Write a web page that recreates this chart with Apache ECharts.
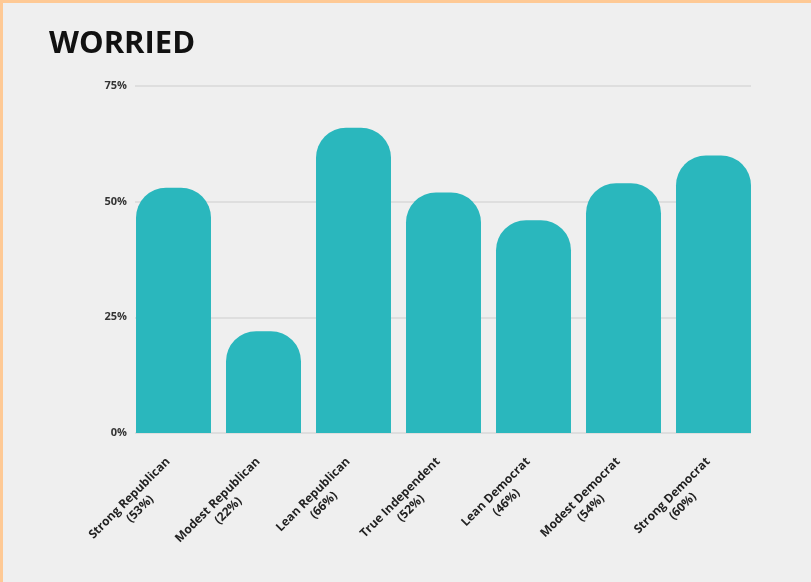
<!DOCTYPE html>
<html>
<head>
<meta charset="utf-8">
<script src="https://cdn.jsdelivr.net/npm/echarts@6/dist/echarts.min.js"></script>
<style>
  html, body { margin: 0; padding: 0; background: #efefef; }
  #chart {
    width: 811px; height: 582px; box-sizing: border-box;
    border-top: 3px solid #fec995; border-left: 3px solid #fec995;
  }
</style>
</head>
<body>
<div id="chart"></div>
<script>
var categories = ['Strong Republican', 'Modest Republican', 'Lean Republican', 'True Independent',
                  'Lean Democrat', 'Modest Democrat', 'Strong Democrat'];
var worried = [53, 22, 66, 52, 46, 54, 60];
var yTicks = [0, 25, 50, 75];

var myChart = echarts.init(document.getElementById('chart'));
myChart.setOption({
    backgroundColor: '#efefef',
    title: {
        text: 'WORRIED',
        left: 41,
        top: 21,
        textStyle: { fontFamily: 'Open Sans', fontWeight: 'bold', fontSize: 31, color: '#111' }
    },
    // grid 0: gridlines and y labels, grid 1: the bars (no outer padding)
    grid: [
        { left: 132, right: 60, top: 83, bottom: 149 },
        { left: 125.5, right: 52.5, top: 83, bottom: 149 }
    ],
    xAxis: [{
        gridIndex: 0,
        type: 'value',
        show: false
    }, {
        gridIndex: 1,
        type: 'category',
        data: categories,
        axisTick: { show: false },
        axisLine: { show: false },
        axisLabel: {
            interval: 0,
            rotate: 45,
            margin: 32,
            formatter: function (name, i) {
                return '{a|' + name + '}\n{a|(' + worried[i] + '%)}';
            },
            rich: {
                a: { align: 'center', fontFamily: 'Open Sans', fontWeight: 'bold',
                     fontSize: 12, color: '#222', lineHeight: 15 }
            }
        }
    }],
    yAxis: [{
        gridIndex: 0,
        type: 'value',
        min: yTicks[0],
        max: yTicks[yTicks.length - 1],
        interval: 25,
        axisLine: { show: false },
        axisTick: { show: false },
        axisLabel: {
            formatter: '{value}%',
            margin: 8,
            fontFamily: 'Open Sans', fontWeight: 'bold', fontSize: 11, color: '#333'
        },
        splitLine: { lineStyle: { color: '#d8d8d8', width: 1.5 } }
    }, {
        gridIndex: 1,
        type: 'value',
        min: yTicks[0],
        max: yTicks[yTicks.length - 1],
        interval: 25,
        show: false,
        splitLine: { show: false }
    }],
    series: [{
        type: 'bar',
        xAxisIndex: 1,
        yAxisIndex: 1,
        data: worried,
        barCategoryGap: '16.7%',
        itemStyle: { color: '#2ab7bd', borderRadius: [30, 30, 0, 0] }
    }]
});
</script>
</body>
</html>
